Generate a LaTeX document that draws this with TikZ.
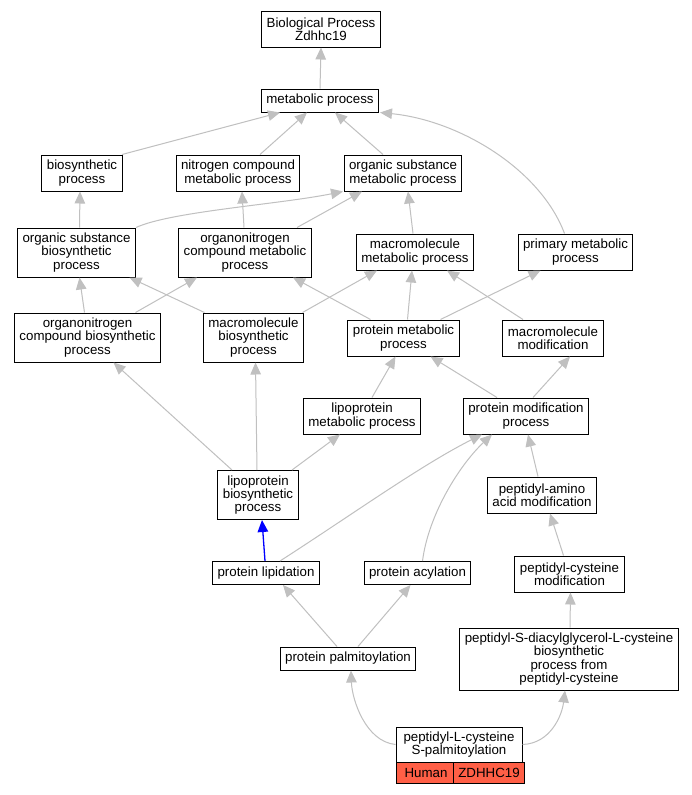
\documentclass[tikz,border=0pt]{standalone}
\usepackage{fontspec}
\setmainfont{Liberation Sans}
\usetikzlibrary{arrows.meta}
\definecolor{silver}{HTML}{C0C0C0}
\definecolor{hitred}{HTML}{FF5F46}
\tikzset{
  box/.style={draw=black, line width=1pt, fill=white, align=center,
    inner xsep=5pt, inner ysep=0pt, font=\fontsize{13.3}{13.2}\selectfont},
  tall/.style={minimum height=10pt+13pt*#1},
  isa/.style={draw=silver, line width=1pt, -{Triangle[length=12pt,width=10.5pt]}},
}

\begin{document}
\begin{tikzpicture}[x=1pt,y=-1pt]
  \useasboundingbox[fill=white] (0,0) rectangle (692,795);

  % TERMS, TOP TO BOTTOM
  \node[box,tall=2] (bp)  at (321,29)    {Biological Process\\Zdhhc19};
  \node[box,tall=1] (met) at (320,100.5) {metabolic process};

  \node[box,tall=2] (bio) at (82,173)    {biosynthetic\\process};
  \node[box,tall=2] (ncm) at (238,173)   {nitrogen compound\\metabolic process};
  \node[box,tall=2] (osm) at (403,173)   {organic substance\\metabolic process};

  \node[box,tall=3] (osb) at (76.5,252.5) {organic substance\\biosynthetic\\process};
  \node[box,tall=3] (ocm) at (245,252.5)  {organonitrogen\\compound metabolic\\process};
  \node[box,tall=2] (mmp) at (415,252)    {macromolecule\\metabolic process};
  \node[box,tall=2] (pmp) at (575.5,252)  {primary metabolic\\process};

  \node[box,tall=3] (ocb) at (87.5,337.5) {organonitrogen\\compound biosynthetic\\process};
  \node[box,tall=3] (mbp) at (253.5,337.5) {macromolecule\\biosynthetic\\process};
  \node[box,tall=2] (prm) at (403.5,338)  {protein metabolic\\process};
  \node[box,tall=2] (mmo) at (553,338)    {macromolecule\\modification};

  \node[box,tall=2] (lmp) at (362,416)   {lipoprotein\\metabolic process};
  \node[box,tall=2] (pmo) at (526,416)   {protein modification\\process};

  \node[box,tall=3] (lbp) at (258,495)   {lipoprotein\\biosynthetic\\process};
  \node[box,tall=2] (pam) at (542,495)   {peptidyl-amino\\acid modification};

  \node[box,tall=1] (pli) at (266,573)   {protein lipidation};
  \node[box,tall=1] (pac) at (417.5,573) {protein acylation};
  \node[box,tall=2] (pcm) at (569.5,574) {peptidyl-cysteine\\modification};

  \node[box,tall=1] (ppa) at (348,658.5) {protein palmitoylation};
  \node[box,tall=4] (pdc) at (569,659)
    {peptidyl-S-diacylglycerol-L-cysteine\\biosynthetic\\process from\\peptidyl-cysteine};

  % annotated term with its gene row
  \node[box,minimum width=126pt,minimum height=35pt] (pls) at (459,744.5)
    {peptidyl-L-cysteine\\S-palmitoylation};
  \node[box,fill=hitred,minimum width=60pt,minimum height=21pt] (hum) at (426,773) {Human};
  \node[box,fill=hitred,minimum width=66pt,minimum height=21pt] (gene) at (489,773) {ZDHHC19};

  % STRAIGHT is_a LINKS, child.north -> parent.south
  \foreach \a/\sa/\b/\sb in {met/0/bp/0, bio/40/met/-40, ncm/22/met/-13,
      osm/-20/met/15, osb/3/bio/-2, ocm/-1/ncm/4, ocm/52/osm/-41,
      mmp/-2/osm/5, ocb/-3/osb/3, ocb/48/ocm/-48, mbp/-49/osb/53,
      mbp/49/mmp/-38, prm/-33/ocm/48, prm/4/mmp/-3, prm/37/pmp/-35,
      mmo/-30/mmp/32, lmp/10/prm/-8, pmo/-29/prm/27, pmo/7/mmo/17,
      lbp/-26/ocb/26, lbp/-1/mbp/2, lbp/34/lmp/-22, pam/-4/pmo/2,
      pcm/-6/pam/8, ppa/-11/pli/17, ppa/10/pac/-7, pdc/1/pcm/1}{
    \draw[isa] ([xshift=\sa pt]\a.north) -- ([xshift=\sb pt]\b.south);
  }

  % curved links
  \draw[isa] (osb.north east) .. controls +(35,-16) and +(-65,13) .. ([xshift=-60pt]osm.south);
  \draw[isa] ([xshift=-11pt]pmp.north) .. controls +(-24,-64) and +(80,8) .. ([xshift=60pt]met.south);
  \draw[isa] ([xshift=14pt]pli.north) .. controls +(70,-45) and +(-60,30) .. ([xshift=-44pt]pmo.south);
  \draw[isa] ([xshift=5pt]pac.north) .. controls +(6,-47) and +(-32,30) .. ([xshift=-34pt]pmo.south);
  \draw[isa] (pls.west) .. controls +(-30,-3) and +(1,29) .. ([xshift=3pt]ppa.south);
  \draw[isa] (pls.east) .. controls +(28,-1) and +(-3,25) .. ([xshift=-4pt]pdc.south);

  % the highlighted path
  \draw[blue, line width=1.3pt, -{Triangle[length=12pt,width=10.5pt]}]
    ([xshift=-1pt]pli.north) -- ([xshift=4pt]lbp.south);
\end{tikzpicture}
\end{document}
